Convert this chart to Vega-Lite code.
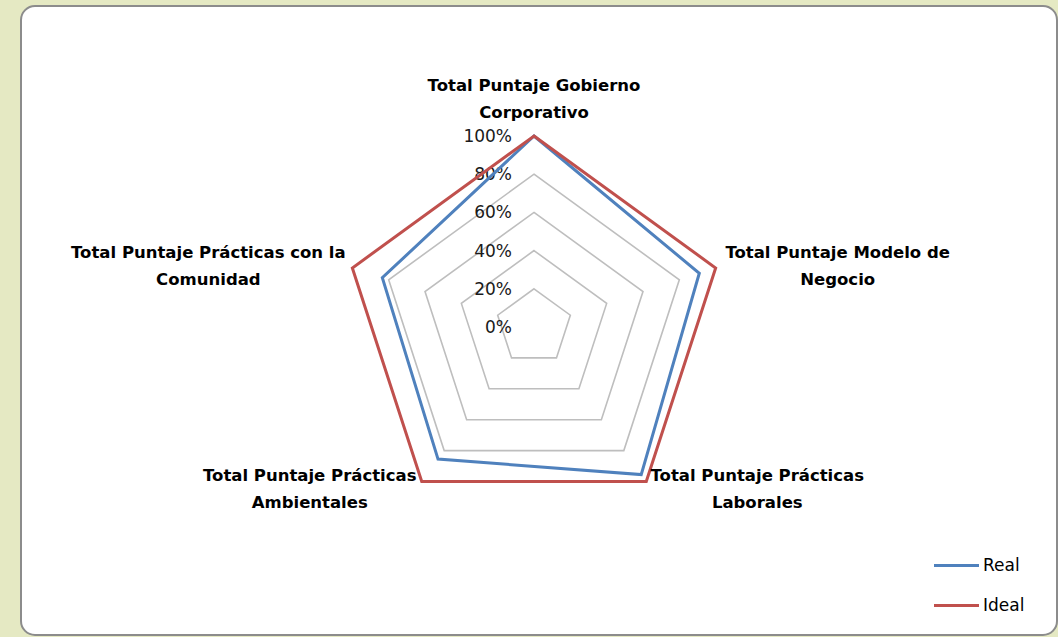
{
  "$schema": "https://vega.github.io/schema/vega-lite/v6.json",
  "width": 1036,
  "height": 629,
  "autosize": "none",
  "padding": {"left": 21, "top": 6, "right": 1, "bottom": 2},
  "background": "#E5E9C3",
  "view": {"fill": "white", "stroke": "#8C8C8C", "strokeWidth": 2, "cornerRadius": 14},
  "config": {"font": "DejaVu Sans"},
  "datasets": {
    "scores": [
      {"eje": "Total Puntaje Gobierno Corporativo", "i": 0, "serie": "Real", "valor": 1.0},
      {"eje": "Total Puntaje Modelo de Negocio", "i": 1, "serie": "Real", "valor": 0.91},
      {"eje": "Total Puntaje Prácticas Laborales", "i": 2, "serie": "Real", "valor": 0.955},
      {"eje": "Total Puntaje Prácticas Ambientales", "i": 3, "serie": "Real", "valor": 0.855},
      {"eje": "Total Puntaje Prácticas con la Comunidad", "i": 4, "serie": "Real", "valor": 0.835},
      {"eje": "Total Puntaje Gobierno Corporativo", "i": 0, "serie": "Ideal", "valor": 1.0},
      {"eje": "Total Puntaje Modelo de Negocio", "i": 1, "serie": "Ideal", "valor": 1.0},
      {"eje": "Total Puntaje Prácticas Laborales", "i": 2, "serie": "Ideal", "valor": 1.0},
      {"eje": "Total Puntaje Prácticas Ambientales", "i": 3, "serie": "Ideal", "valor": 1.0},
      {"eje": "Total Puntaje Prácticas con la Comunidad", "i": 4, "serie": "Ideal", "valor": 1.0}
    ],
    "anillos": [
      {"nivel": 0.2, "i": [0, 1, 2, 3, 4]},
      {"nivel": 0.4, "i": [0, 1, 2, 3, 4]},
      {"nivel": 0.6, "i": [0, 1, 2, 3, 4]},
      {"nivel": 0.8, "i": [0, 1, 2, 3, 4]},
      {"nivel": 1.0, "i": [0, 1, 2, 3, 4]}
    ],
    "marcas": [
      {"nivel": 0}, {"nivel": 0.2}, {"nivel": 0.4}, {"nivel": 0.6}, {"nivel": 0.8}, {"nivel": 1.0}
    ]
  },
  "data": {"name": "scores"},
  "transform": [
    {"calculate": "datum.i * 2 * PI / 5", "as": "theta"},
    {"calculate": "datum.valor * sin(datum.theta)", "as": "px"},
    {"calculate": "datum.valor * cos(datum.theta)", "as": "py"},
    {"calculate": "replace(datum.eje, regexp(' (\\\\S+)$'), '\\n$1')", "as": "lab"}
  ],
  "encoding": {
    "x": {"field": "px", "type": "quantitative", "scale": {"domain": [-2.6859, 2.7382], "nice": false, "zero": false}, "axis": null},
    "y": {"field": "py", "type": "quantitative", "scale": {"domain": [-1.6126, 1.6806], "nice": false, "zero": false}, "axis": null}
  },
  "layer": [
    {
      "data": {"name": "anillos"},
      "transform": [
        {"flatten": ["i"]},
        {"calculate": "datum.i * 2 * PI / 5", "as": "theta"},
        {"calculate": "datum.nivel * sin(datum.theta)", "as": "px"},
        {"calculate": "datum.nivel * cos(datum.theta)", "as": "py"}
      ],
      "mark": {"type": "line", "interpolate": "linear-closed", "color": "#BEBEBE", "strokeWidth": 1.6},
      "encoding": {
        "detail": {"field": "nivel"},
        "order": {"field": "i", "type": "quantitative"}
      }
    },
    {
      "data": {"name": "marcas"},
      "transform": [
        {"calculate": "0", "as": "px"},
        {"calculate": "datum.nivel", "as": "py"}
      ],
      "mark": {"type": "text", "align": "right", "baseline": "middle", "dx": -22, "dy": 1, "fontSize": 17, "color": "#1A1A1A"},
      "encoding": {
        "text": {"field": "nivel", "type": "quantitative", "format": ".0%"}
      }
    },
    {
      "mark": {"type": "line", "interpolate": "linear-closed", "strokeWidth": 3},
      "encoding": {
        "color": {
          "field": "serie", "type": "nominal",
          "scale": {"domain": ["Real", "Ideal"], "range": ["#4F81BD", "#C0504D"]},
          "legend": {
            "title": null, "orient": "none", "legendX": 919, "legendY": 543,
            "symbolType": "M-1.5,0H1.5", "symbolSize": 900, "symbolStrokeWidth": 3,
            "labelFontSize": 17, "labelColor": "#000000", "labelOffset": 10, "rowPadding": 15
          }
        },
        "detail": {"field": "serie"},
        "order": {"field": "i", "type": "quantitative"}
      }
    },
    {
      "transform": [{"filter": "datum.serie == 'Ideal' && datum.i == 0"}],
      "mark": {"type": "text", "align": "center", "baseline": "middle", "lineBreak": "\n", "lineHeight": 27, "fontSize": 16.5, "fontWeight": "bold", "color": "#000000", "dx": 0, "dy": -49.5},
      "encoding": {"text": {"field": "lab"}}
    },
    {
      "transform": [{"filter": "datum.serie == 'Ideal' && datum.i == 1"}],
      "mark": {"type": "text", "align": "center", "baseline": "middle", "lineBreak": "\n", "lineHeight": 27, "fontSize": 16.5, "fontWeight": "bold", "color": "#000000", "dx": 122, "dy": -14.5},
      "encoding": {"text": {"field": "lab"}}
    },
    {
      "transform": [{"filter": "datum.serie == 'Ideal' && datum.i == 2"}],
      "mark": {"type": "text", "align": "center", "baseline": "middle", "lineBreak": "\n", "lineHeight": 27, "fontSize": 16.5, "fontWeight": "bold", "color": "#000000", "dx": 111, "dy": -6},
      "encoding": {"text": {"field": "lab"}}
    },
    {
      "transform": [{"filter": "datum.serie == 'Ideal' && datum.i == 3"}],
      "mark": {"type": "text", "align": "center", "baseline": "middle", "lineBreak": "\n", "lineHeight": 27, "fontSize": 16.5, "fontWeight": "bold", "color": "#000000", "dx": -112, "dy": -6},
      "encoding": {"text": {"field": "lab"}}
    },
    {
      "transform": [{"filter": "datum.serie == 'Ideal' && datum.i == 4"}],
      "mark": {"type": "text", "align": "center", "baseline": "middle", "lineBreak": "\n", "lineHeight": 27, "fontSize": 16.5, "fontWeight": "bold", "color": "#000000", "dx": -144, "dy": -14.5},
      "encoding": {"text": {"field": "lab"}}
    }
  ]
}
